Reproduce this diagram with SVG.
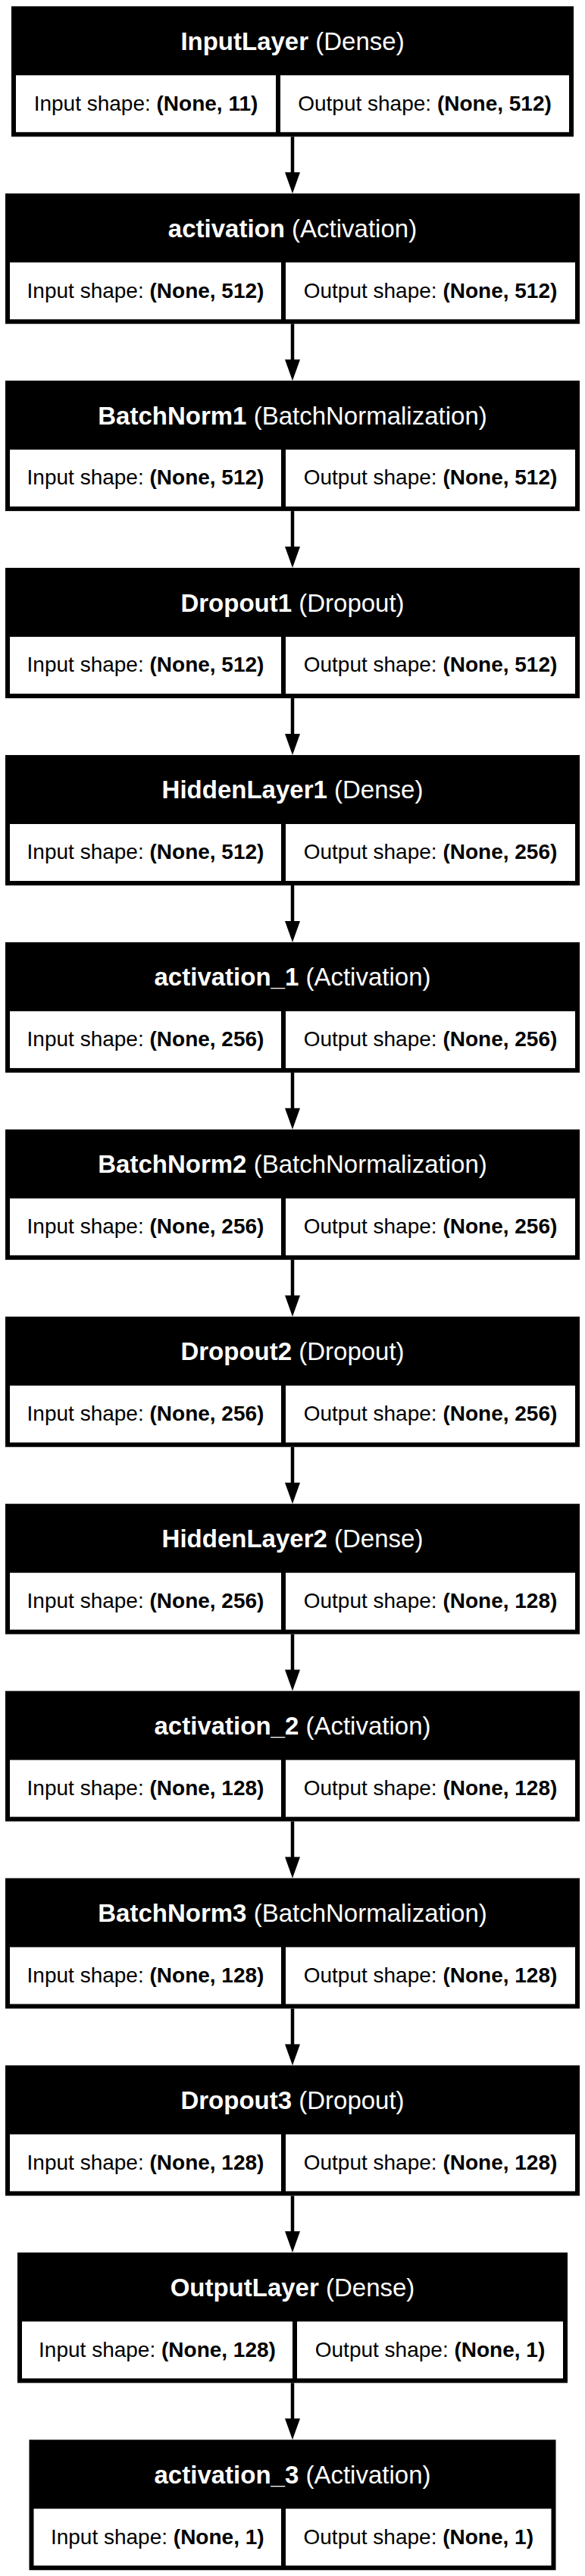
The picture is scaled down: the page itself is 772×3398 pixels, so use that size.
<svg xmlns="http://www.w3.org/2000/svg" width="772" height="3398" viewBox="0 0 772 3398">
<style>
.box{fill:#000}
.cell{fill:#fff}
.title{font-family:"Liberation Sans",Arial,Helvetica,sans-serif;font-size:33px;fill:#fff;text-anchor:middle}
.lbl{font-family:"Liberation Sans",Arial,Helvetica,sans-serif;font-size:28px;fill:#000;text-anchor:middle}
.b{font-weight:bold}
.edge{stroke:#000;stroke-width:4.5;fill:none}
.head{fill:#000}
</style>
<rect x="0" y="0" width="772" height="3398" fill="#fff"/>
<g id="connectors">
<line class="edge" x1="386" y1="180.3" x2="386" y2="229"/><polygon class="head" points="376,227.22 396,227.22 386,255.22"/>
<line class="edge" x1="386" y1="427.22" x2="386" y2="476"/><polygon class="head" points="376,474.14 396,474.14 386,502.14"/>
<line class="edge" x1="386" y1="674.14" x2="386" y2="723"/><polygon class="head" points="376,721.06 396,721.06 386,749.06"/>
<line class="edge" x1="386" y1="921.06" x2="386" y2="970"/><polygon class="head" points="376,967.98 396,967.98 386,995.98"/>
<line class="edge" x1="386" y1="1167.98" x2="386" y2="1217"/><polygon class="head" points="376,1214.9 396,1214.9 386,1242.9"/>
<line class="edge" x1="386" y1="1414.9" x2="386" y2="1464"/><polygon class="head" points="376,1461.82 396,1461.82 386,1489.82"/>
<line class="edge" x1="386" y1="1661.82" x2="386" y2="1711"/><polygon class="head" points="376,1708.74 396,1708.74 386,1736.74"/>
<line class="edge" x1="386" y1="1908.74" x2="386" y2="1958"/><polygon class="head" points="376,1955.66 396,1955.66 386,1983.66"/>
<line class="edge" x1="386" y1="2155.66" x2="386" y2="2205"/><polygon class="head" points="376,2202.58 396,2202.58 386,2230.58"/>
<line class="edge" x1="386" y1="2402.58" x2="386" y2="2452"/><polygon class="head" points="376,2449.5 396,2449.5 386,2477.5"/>
<line class="edge" x1="386" y1="2649.5" x2="386" y2="2698"/><polygon class="head" points="376,2696.42 396,2696.42 386,2724.42"/>
<line class="edge" x1="386" y1="2896.42" x2="386" y2="2945"/><polygon class="head" points="376,2943.34 396,2943.34 386,2971.34"/>
<line class="edge" x1="386" y1="3143.34" x2="386" y2="3192"/><polygon class="head" points="376,3190.26 396,3190.26 386,3218.26"/>
</g>
<g id="InputLayer" transform="translate(0,8.3)">
<rect class="box" x="15" y="0" width="742" height="172"/>
<rect class="cell" x="21" y="91" width="343" height="75"/>
<rect class="cell" x="370" y="91" width="381" height="75"/>
<text class="title" x="386" y="57.5"><tspan class="b">InputLayer</tspan> (Dense)</text>
<text class="lbl" x="192.5" y="137.3">Input shape: <tspan class="b">(None, 11)</tspan></text>
<text class="lbl" x="560.5" y="137.3">Output shape: <tspan class="b">(None, 512)</tspan></text>
</g>
<g id="activation" transform="translate(0,255.22)">
<rect class="box" x="7" y="0" width="758" height="172"/>
<rect class="cell" x="13" y="91" width="358" height="75"/>
<rect class="cell" x="377" y="91" width="382" height="75"/>
<text class="title" x="386" y="57.5"><tspan class="b">activation</tspan> (Activation)</text>
<text class="lbl" x="192" y="137.3">Input shape: <tspan class="b">(None, 512)</tspan></text>
<text class="lbl" x="568" y="137.3">Output shape: <tspan class="b">(None, 512)</tspan></text>
</g>
<g id="BatchNorm1" transform="translate(0,502.14)">
<rect class="box" x="7" y="0" width="758" height="172"/>
<rect class="cell" x="13" y="91" width="358" height="75"/>
<rect class="cell" x="377" y="91" width="382" height="75"/>
<text class="title" x="386" y="57.5"><tspan class="b">BatchNorm1</tspan> (BatchNormalization)</text>
<text class="lbl" x="192" y="137.3">Input shape: <tspan class="b">(None, 512)</tspan></text>
<text class="lbl" x="568" y="137.3">Output shape: <tspan class="b">(None, 512)</tspan></text>
</g>
<g id="Dropout1" transform="translate(0,749.06)">
<rect class="box" x="7" y="0" width="758" height="172"/>
<rect class="cell" x="13" y="91" width="358" height="75"/>
<rect class="cell" x="377" y="91" width="382" height="75"/>
<text class="title" x="386" y="57.5"><tspan class="b">Dropout1</tspan> (Dropout)</text>
<text class="lbl" x="192" y="137.3">Input shape: <tspan class="b">(None, 512)</tspan></text>
<text class="lbl" x="568" y="137.3">Output shape: <tspan class="b">(None, 512)</tspan></text>
</g>
<g id="HiddenLayer1" transform="translate(0,995.98)">
<rect class="box" x="7" y="0" width="758" height="172"/>
<rect class="cell" x="13" y="91" width="358" height="75"/>
<rect class="cell" x="377" y="91" width="382" height="75"/>
<text class="title" x="386" y="57.5"><tspan class="b">HiddenLayer1</tspan> (Dense)</text>
<text class="lbl" x="192" y="137.3">Input shape: <tspan class="b">(None, 512)</tspan></text>
<text class="lbl" x="568" y="137.3">Output shape: <tspan class="b">(None, 256)</tspan></text>
</g>
<g id="activation_1" transform="translate(0,1242.9)">
<rect class="box" x="7" y="0" width="758" height="172"/>
<rect class="cell" x="13" y="91" width="358" height="75"/>
<rect class="cell" x="377" y="91" width="382" height="75"/>
<text class="title" x="386" y="57.5"><tspan class="b">activation_1</tspan> (Activation)</text>
<text class="lbl" x="192" y="137.3">Input shape: <tspan class="b">(None, 256)</tspan></text>
<text class="lbl" x="568" y="137.3">Output shape: <tspan class="b">(None, 256)</tspan></text>
</g>
<g id="BatchNorm2" transform="translate(0,1489.82)">
<rect class="box" x="7" y="0" width="758" height="172"/>
<rect class="cell" x="13" y="91" width="358" height="75"/>
<rect class="cell" x="377" y="91" width="382" height="75"/>
<text class="title" x="386" y="57.5"><tspan class="b">BatchNorm2</tspan> (BatchNormalization)</text>
<text class="lbl" x="192" y="137.3">Input shape: <tspan class="b">(None, 256)</tspan></text>
<text class="lbl" x="568" y="137.3">Output shape: <tspan class="b">(None, 256)</tspan></text>
</g>
<g id="Dropout2" transform="translate(0,1736.74)">
<rect class="box" x="7" y="0" width="758" height="172"/>
<rect class="cell" x="13" y="91" width="358" height="75"/>
<rect class="cell" x="377" y="91" width="382" height="75"/>
<text class="title" x="386" y="57.5"><tspan class="b">Dropout2</tspan> (Dropout)</text>
<text class="lbl" x="192" y="137.3">Input shape: <tspan class="b">(None, 256)</tspan></text>
<text class="lbl" x="568" y="137.3">Output shape: <tspan class="b">(None, 256)</tspan></text>
</g>
<g id="HiddenLayer2" transform="translate(0,1983.66)">
<rect class="box" x="7" y="0" width="758" height="172"/>
<rect class="cell" x="13" y="91" width="358" height="75"/>
<rect class="cell" x="377" y="91" width="382" height="75"/>
<text class="title" x="386" y="57.5"><tspan class="b">HiddenLayer2</tspan> (Dense)</text>
<text class="lbl" x="192" y="137.3">Input shape: <tspan class="b">(None, 256)</tspan></text>
<text class="lbl" x="568" y="137.3">Output shape: <tspan class="b">(None, 128)</tspan></text>
</g>
<g id="activation_2" transform="translate(0,2230.58)">
<rect class="box" x="7" y="0" width="758" height="172"/>
<rect class="cell" x="13" y="91" width="358" height="75"/>
<rect class="cell" x="377" y="91" width="382" height="75"/>
<text class="title" x="386" y="57.5"><tspan class="b">activation_2</tspan> (Activation)</text>
<text class="lbl" x="192" y="137.3">Input shape: <tspan class="b">(None, 128)</tspan></text>
<text class="lbl" x="568" y="137.3">Output shape: <tspan class="b">(None, 128)</tspan></text>
</g>
<g id="BatchNorm3" transform="translate(0,2477.5)">
<rect class="box" x="7" y="0" width="758" height="172"/>
<rect class="cell" x="13" y="91" width="358" height="75"/>
<rect class="cell" x="377" y="91" width="382" height="75"/>
<text class="title" x="386" y="57.5"><tspan class="b">BatchNorm3</tspan> (BatchNormalization)</text>
<text class="lbl" x="192" y="137.3">Input shape: <tspan class="b">(None, 128)</tspan></text>
<text class="lbl" x="568" y="137.3">Output shape: <tspan class="b">(None, 128)</tspan></text>
</g>
<g id="Dropout3" transform="translate(0,2724.42)">
<rect class="box" x="7" y="0" width="758" height="172"/>
<rect class="cell" x="13" y="91" width="358" height="75"/>
<rect class="cell" x="377" y="91" width="382" height="75"/>
<text class="title" x="386" y="57.5"><tspan class="b">Dropout3</tspan> (Dropout)</text>
<text class="lbl" x="192" y="137.3">Input shape: <tspan class="b">(None, 128)</tspan></text>
<text class="lbl" x="568" y="137.3">Output shape: <tspan class="b">(None, 128)</tspan></text>
</g>
<g id="OutputLayer" transform="translate(0,2971.34)">
<rect class="box" x="23" y="0" width="726" height="172"/>
<rect class="cell" x="29" y="91" width="357" height="75"/>
<rect class="cell" x="392" y="91" width="351" height="75"/>
<text class="title" x="386" y="57.5"><tspan class="b">OutputLayer</tspan> (Dense)</text>
<text class="lbl" x="207.5" y="137.3">Input shape: <tspan class="b">(None, 128)</tspan></text>
<text class="lbl" x="567.5" y="137.3">Output shape: <tspan class="b">(None, 1)</tspan></text>
</g>
<g id="activation_3" transform="translate(0,3218.26)">
<rect class="box" x="38.5" y="0" width="695" height="172"/>
<rect class="cell" x="44.5" y="91" width="326.5" height="75"/>
<rect class="cell" x="377" y="91" width="350.5" height="75"/>
<text class="title" x="386" y="57.5"><tspan class="b">activation_3</tspan> (Activation)</text>
<text class="lbl" x="207.75" y="137.3">Input shape: <tspan class="b">(None, 1)</tspan></text>
<text class="lbl" x="552.25" y="137.3">Output shape: <tspan class="b">(None, 1)</tspan></text>
</g>
</svg>
